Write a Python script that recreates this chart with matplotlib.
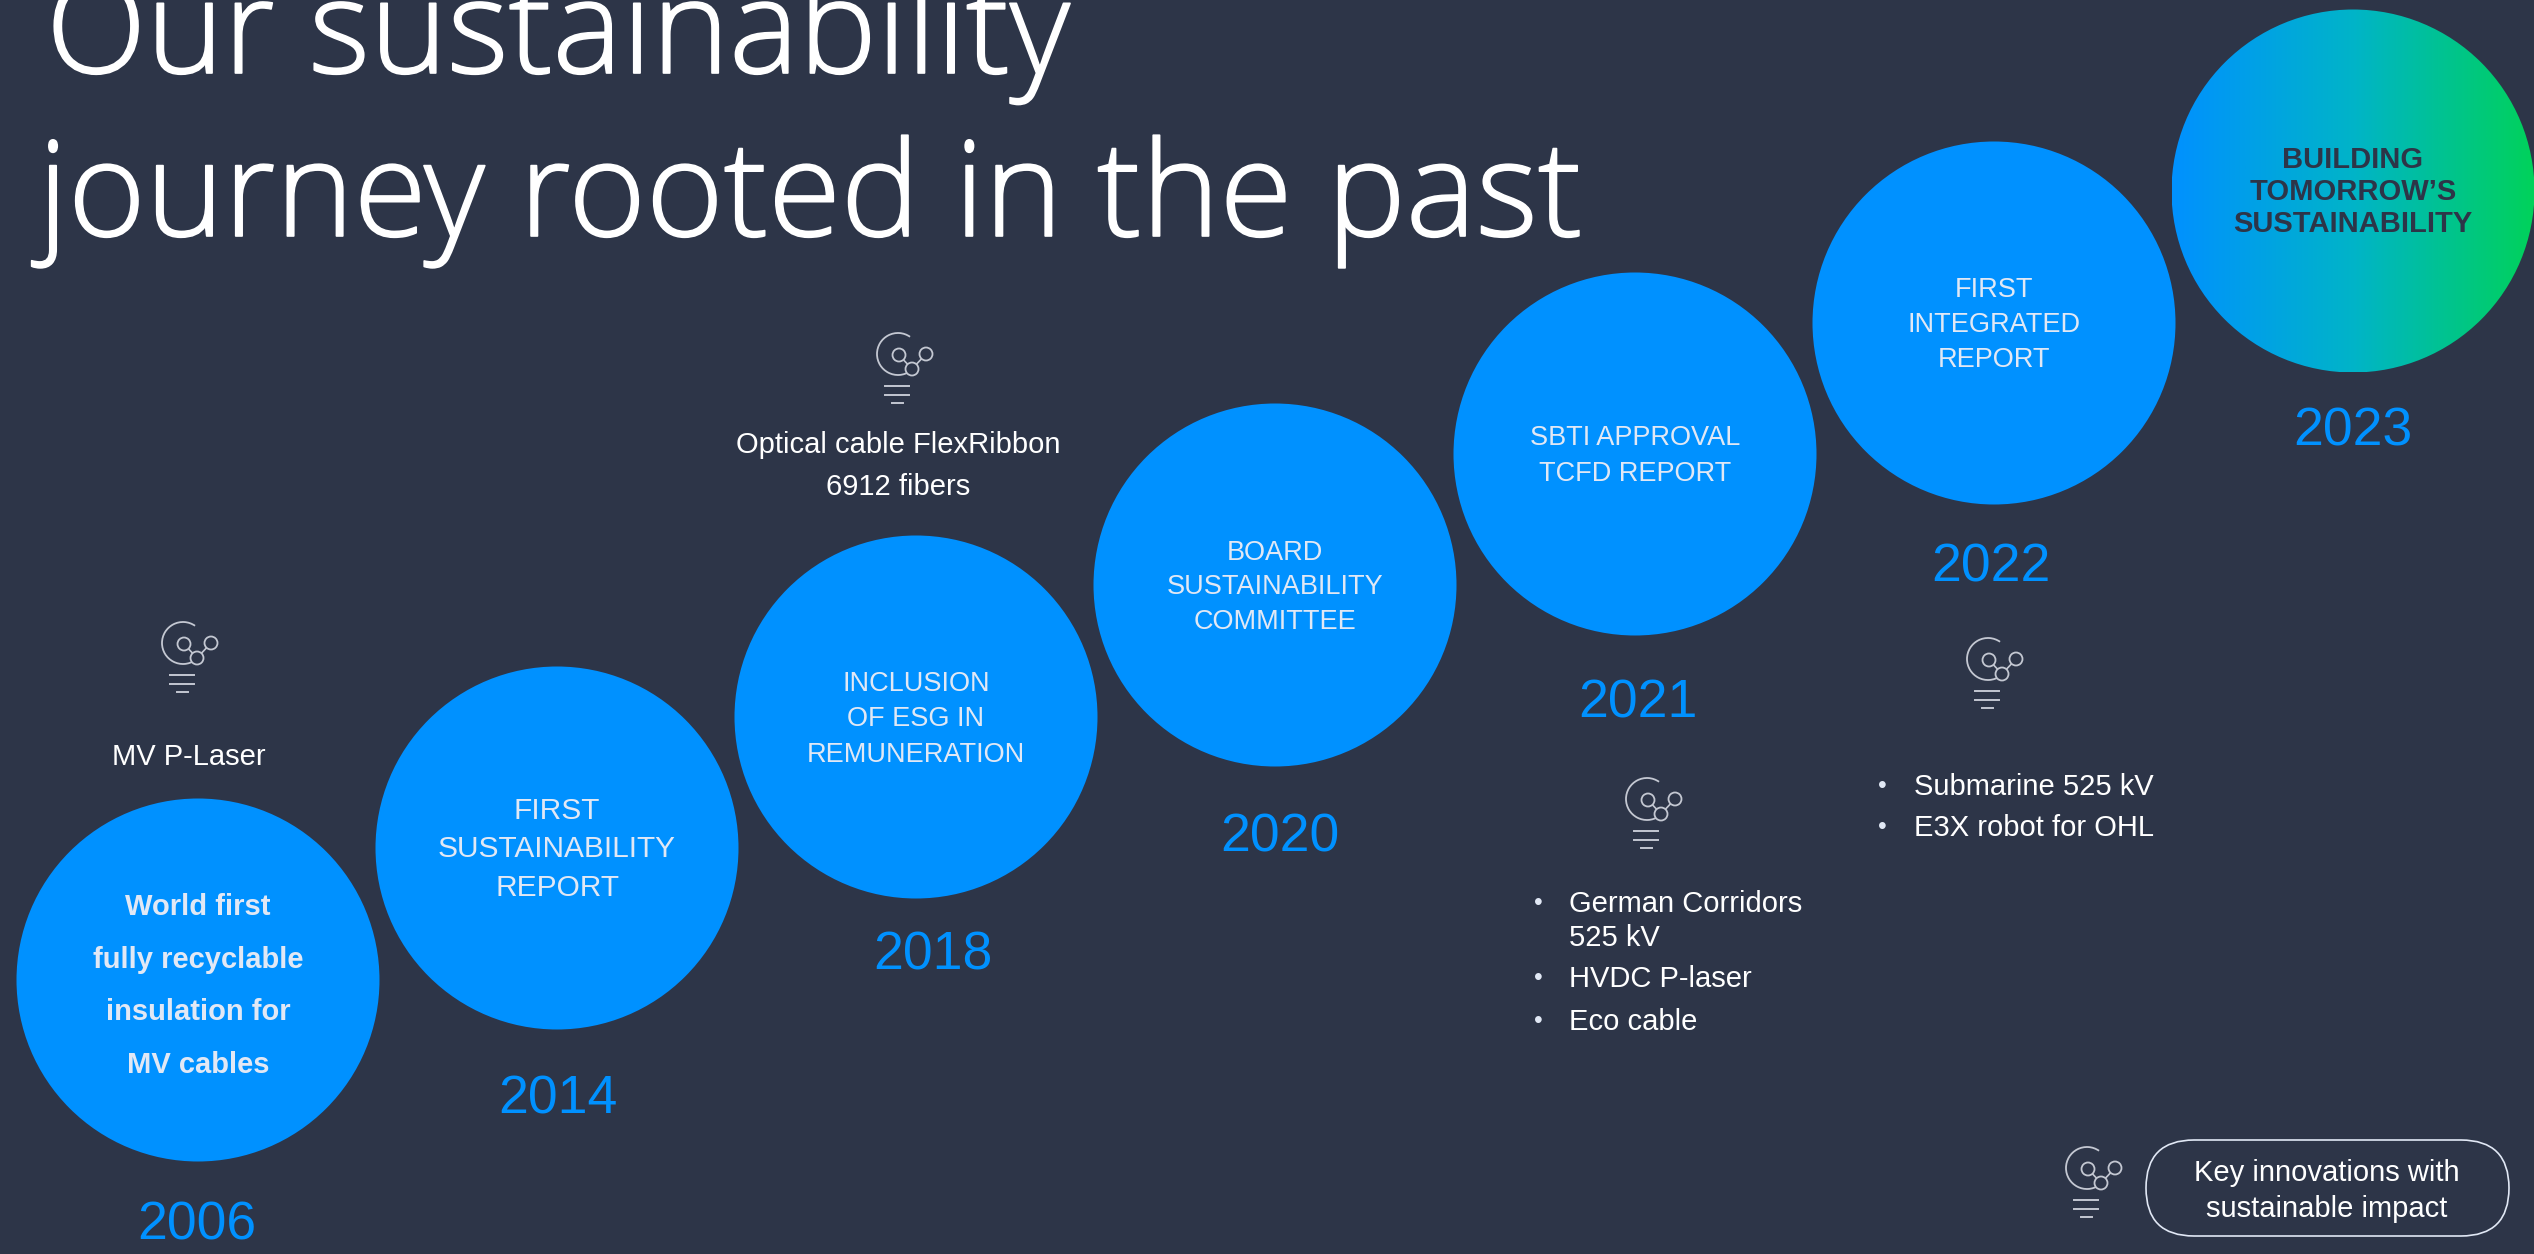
import numpy as np
import matplotlib
matplotlib.use("Agg")
import matplotlib.pyplot as plt
import matplotlib.patheffects as pe
from matplotlib.colors import LinearSegmentedColormap
from matplotlib.patches import Arc, Circle, FancyBboxPatch

BG = "#2d3548"
BLUE = "#0091ff"
TEAL = "#00b4c8"
GREEN = "#00d25a"
PALE = "#e1e8f5"
ICON = "#c4c8d2"

years = ["2006", "2014", "2018", "2020", "2021", "2022", "2023"]
circle_x = [198, 557, 916, 1275, 1635, 1994, 2353]
circle_y = [980, 848, 717, 585, 454, 323, 191]
year_x = [197, 558, 933, 1280, 1638, 1991, 2353]
year_y = [1226, 1099, 956, 837, 704, 567, 431]
radius = 181.5

circle_text = [
    ["World first", "fully recyclable", "insulation for", "MV cables"],
    ["FIRST", "SUSTAINABILITY", "REPORT"],
    ["INCLUSION", "OF ESG IN", "REMUNERATION"],
    ["BOARD", "SUSTAINABILITY", "COMMITTEE"],
    ["SBTI APPROVAL", "TCFD REPORT"],
    ["FIRST", "INTEGRATED", "REPORT"],
    ["BUILDING", "TOMORROW’S", "SUSTAINABILITY"],
]
circle_text_y = [
    [907, 960, 1012, 1065],
    [811, 849, 888],
    [684, 719, 755],
    [553, 587, 622],
    [438, 474],
    [290, 325, 360],
    [160, 192, 224],
]
circle_text_size = [21, 21.5, 19.5, 19.5, 19.5, 19.5, 21]

icon_x = [183, 898, 1647, 1988, 2087]
icon_y = [643, 354, 799, 659, 1168]

plt.rcParams["font.family"] = ["Liberation Sans", "DejaVu Sans"]
fig = plt.figure(figsize=(25.34, 12.54), dpi=100, facecolor=BG)
ax = fig.add_axes([0, 0, 1, 1])
ax.set_xlim(0, 2534)
ax.set_ylim(1254, 0)
ax.axis("off")


def draw_icon(x, y):
    arc = Arc((x, y), 42, 42, theta1=55, theta2=305, color=ICON, lw=1.3)
    # y axis is flipped, so the arc opening ends up on the right
    ax.add_patch(arc)
    nodes = [(x + 1, y + 1), (x + 14, y + 15), (x + 28, y)]
    ax.plot([nodes[0][0], nodes[1][0], nodes[2][0]],
            [nodes[0][1], nodes[1][1], nodes[2][1]], color=ICON, lw=1.2, zorder=3)
    for n in nodes:
        ax.add_patch(Circle(n, 6.5, fc=BG, ec=ICON, lw=1.3, zorder=4))
    ax.plot([x - 13, x + 11], [y + 32, y + 32], color=ICON, lw=1.4)
    ax.plot([x - 13, x + 11], [y + 41, y + 41], color=ICON, lw=1.4)
    ax.plot([x - 6, x + 5], [y + 49, y + 49], color=ICON, lw=1.4)


# title runs off the top edge, a thin stroke thickens the light weight a little
thicken = [pe.withStroke(linewidth=1.2, foreground="white")]
ax.text(46, 73, "Our sustainability", color="white", fontsize=94.5, family="Open Sans",
        weight=300, va="baseline", ha="left", path_effects=thicken)
ax.text(38, 236, "journey rooted in the past", color="white", fontsize=95.5, family="Open Sans",
        weight=300, va="baseline", ha="left", path_effects=thicken)

for i, year in enumerate(years):
    c = Circle((circle_x[i], circle_y[i]), radius, fc=BLUE, ec="none", zorder=2)
    ax.add_patch(c)
    if i == len(years) - 1:
        # last circle fades from blue to green
        c.set_facecolor("none")
        cmap = LinearSegmentedColormap.from_list("fade", [BLUE, TEAL, GREEN])
        grad = np.linspace(0, 1, 400).reshape(1, -1)
        im = ax.imshow(grad, cmap=cmap, aspect="auto", zorder=2,
                       extent=[circle_x[i] - radius, circle_x[i] + radius,
                               circle_y[i] + radius, circle_y[i] - radius])
        im.set_clip_path(c)
    ax.text(year_x[i], year_y[i], year, color=BLUE, fontsize=38.5, ha="center", va="center")

    if i == 0:
        style = dict(color=PALE, weight="bold")
    elif i == len(years) - 1:
        style = dict(color=BG, weight="bold")
    else:
        style = dict(color=PALE)
    for line, y in zip(circle_text[i], circle_text_y[i]):
        ax.text(circle_x[i], y, line, ha="center", va="center", zorder=5,
                fontsize=circle_text_size[i], **style)

ax.set_xlim(0, 2534)
ax.set_ylim(1254, 0)

for x, y in zip(icon_x, icon_y):
    draw_icon(x, y)

note = dict(color="white", fontsize=21, va="center")
ax.text(189, 757, "MV P-Laser", ha="center", **note)
ax.text(898, 445, "Optical cable FlexRibbon", ha="center", **note)
ax.text(898, 487, "6912 fibers", ha="center", **note)

for y in [903, 978, 1021]:
    ax.text(1538, y, "•", ha="center", color=PALE, fontsize=18, va="center")
ax.text(1569, 904, "German Corridors", ha="left", **note)
ax.text(1569, 938, "525 kV", ha="left", **note)
ax.text(1569, 979, "HVDC P-laser", ha="left", **note)
ax.text(1569, 1022, "Eco cable", ha="left", **note)

for y in [786, 827]:
    ax.text(1882, y, "•", ha="center", color=PALE, fontsize=18, va="center")
ax.text(1914, 787, "Submarine 525 kV", ha="left", **note)
ax.text(1914, 828, "E3X robot for OHL", ha="left", **note)

# legend pill
ax.add_patch(FancyBboxPatch((2146, 1140), 363, 96, boxstyle="round,pad=0,rounding_size=48",
                            fc="none", ec=PALE, lw=1.2))
ax.text(2327, 1173, "Key innovations with", ha="center", **note)
ax.text(2327, 1209, "sustainable impact", ha="center", **note)

fig.savefig("out.png", dpi=100, facecolor=BG)
